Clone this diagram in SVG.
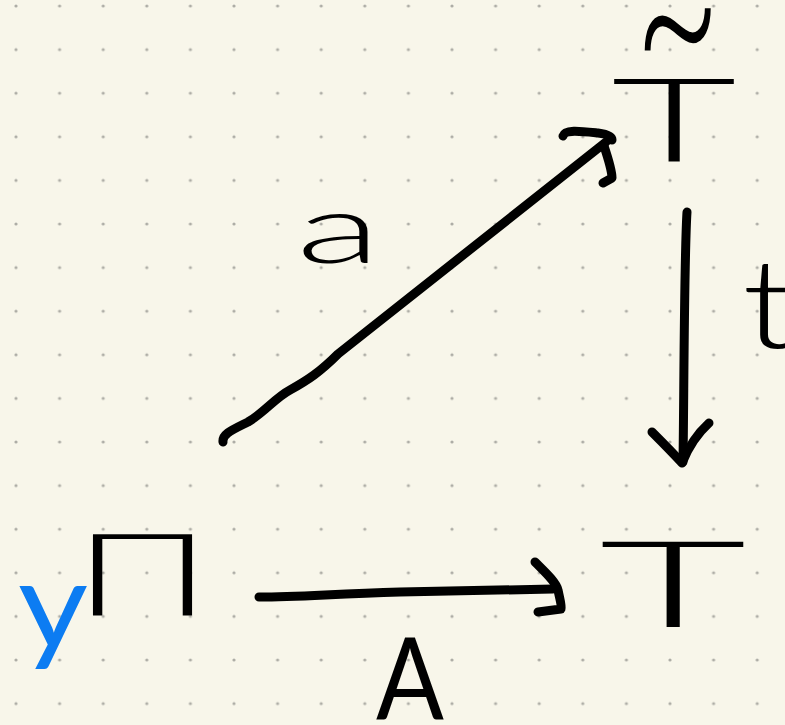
<svg xmlns="http://www.w3.org/2000/svg" width="785" height="725" viewBox="0 0 785 725">
  <defs>
    <pattern id="dots" patternUnits="userSpaceOnUse" x="-5.8" y="-15.8" width="43.6" height="43.6">
      <circle cx="21.8" cy="21.8" r="1.6" fill="#aeada6"/>
    </pattern>
    <style>
      .edge { fill: none; stroke: #000; stroke-width: 9; stroke-linecap: round; stroke-linejoin: round; }
      .lbl { font-family: Lato, "Liberation Sans", Arial, sans-serif; font-weight: 300; fill: #000; }
      .reg { font-weight: 400; }
      .blue { fill: #0c7cf2; }
    </style>
  </defs>
  <rect width="785" height="725" fill="#f8f6ea"/>
  <rect width="785" height="725" fill="url(#dots)"/>

  <g id="connectors">
    <g id="edge-a">
      <path class="edge" d="M223,442 C222,434 232,430 248,422 C265,412 275,398 290,390 C308,380 320,372 338,354 L606,142"/>
      <path class="edge" d="M563,136 C565,129 580,131 598,133 C606,134 612,136 612,140"/>
      <path class="edge" d="M604,146 C608,158 612,170 612,178 L603,183"/>
    </g>
    <g id="edge-t">
      <path class="edge" d="M687,212 C684,260 684,400 683,462"/>
      <path class="edge" d="M652,432 C662,442 672,452 682,463 M709,423 C698,433 688,448 682,463"/>
    </g>
    <g id="edge-A">
      <path class="edge" d="M259,597 C300,597 330,594 400,592 L553,589"/>
      <path class="edge" d="M535,562 C545,572 556,582 558,590 C560,600 562,606 561,609 L538,612"/>
    </g>
  </g>

  <g id="node-Ttilde">
    <text class="lbl" font-size="150" transform="translate(634,109) scale(1,1.8)">~</text>
    <text class="lbl" x="611" y="162" font-size="117" textLength="126" lengthAdjust="spacingAndGlyphs">T</text>
  </g>
  <g id="node-T">
    <text class="lbl" x="599" y="627" font-size="120" textLength="148" lengthAdjust="spacingAndGlyphs">T</text>
  </g>
  <g id="node-yPi">
    <text class="lbl reg blue" x="18" y="648" font-size="122" textLength="70" lengthAdjust="spacingAndGlyphs">y</text>
    <text class="lbl" x="74" y="615" font-size="115" textLength="137" lengthAdjust="spacingAndGlyphs">Π</text>
  </g>

  <g id="labels">
    <text class="lbl" x="296" y="263" font-size="96" textLength="85" lengthAdjust="spacingAndGlyphs">a</text>
    <text class="lbl" x="742" y="348" font-size="125" textLength="56" lengthAdjust="spacingAndGlyphs">t</text>
    <text class="lbl reg" x="376" y="719" font-size="115" textLength="68" lengthAdjust="spacingAndGlyphs">A</text>
  </g>
</svg>
